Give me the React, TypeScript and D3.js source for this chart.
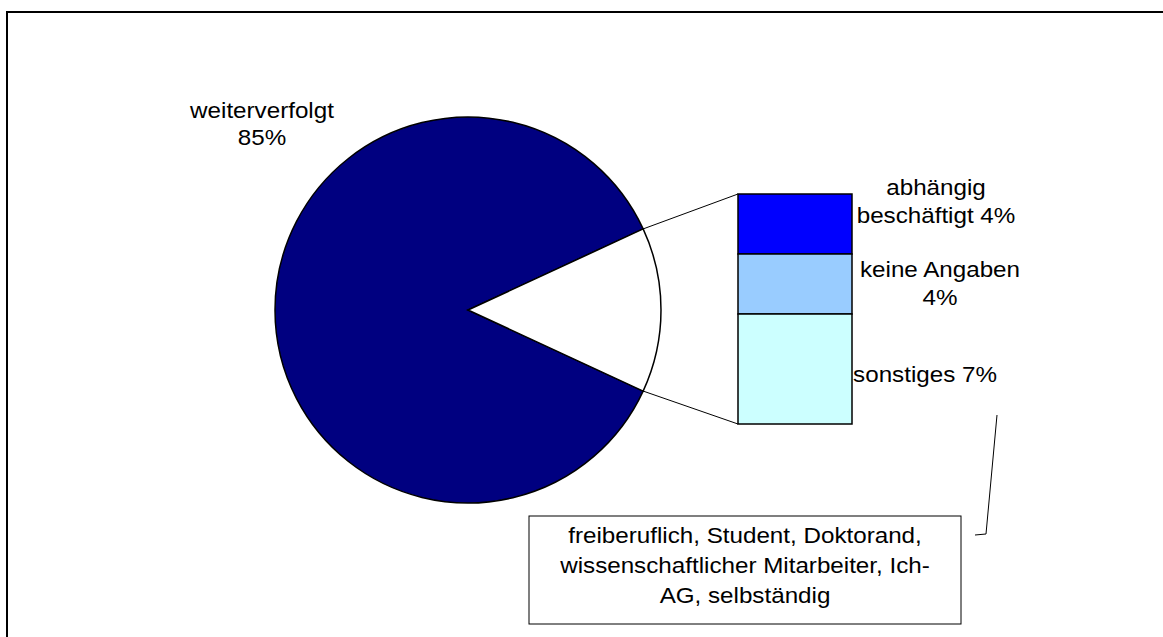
import React from "react";
import * as d3 from "d3";

const pieCategories = ["weiterverfolgt", "nicht weiterverfolgt"];
const pieValues = [86.2, 13.8];
const mainLabelLines = ["weiterverfolgt", "85%"];

const barCategories = ["abhängig beschäftigt", "keine Angaben", "sonstiges"];
const barValues = [3.6, 3.6, 6.6];
const barLabelLines = [["abhängig", "beschäftigt 4%"], ["keine Angaben", "4%"], ["sonstiges 7%"]];
const barColors = ["#0000FF", "#99CCFF", "#CCFFFF"];
const pieColors = ["#000080", "#FFFFFF"];

const noteLines = ["freiberuflich, Student, Doktorand,", "wissenschaftlicher Mitarbeiter, Ich-", "AG, selbständig"];

const W = 1163;
const H = 637;
const FONT = "Arial, 'Liberation Sans', sans-serif";
const FS = 22;
const SX = 1.1;

function STxt({ x, y, children, anchor = "middle" }: any) {
  return (
    <g transform={`translate(${x},${y}) scale(${SX},1)`}>
      <text x={0} y={0} textAnchor={anchor} fontFamily={FONT} fontSize={FS} fill="#000">
        {children}
      </text>
    </g>
  );
}

export default function App() {
  const cx = 468;
  const cy = 310;
  const r = 193;
  const otherFrac = pieValues[1] / d3.sum(pieValues);
  const half = otherFrac * Math.PI;
  const start = Math.PI / 2 + half;
  const pie = d3.pie<number>().sort(null).startAngle(start).endAngle(start + 2 * Math.PI);
  const arcs = pie(pieValues);
  const arcGen = d3.arc<any>().innerRadius(0).outerRadius(r);

  const other = arcs[1];
  const pt = (a: number) => [cx + r * Math.sin(a), cy - r * Math.cos(a)];
  const pTop = pt(other.startAngle);
  const pBot = pt(other.endAngle);

  const barX0 = 738;
  const barX1 = 852;
  const total = d3.sum(barValues);
  const y = d3.scaleLinear().domain([0, total]).range([194, 424]);
  const cum = [0];
  barValues.forEach((v, i) => cum.push(cum[i] + v));

  const labelPos = [
    { x: 936, y: 195 },
    { x: 940, y: 277 },
    { x: 925, y: 382 },
  ];
  const lh = 28;

  const box = { x: 529, y: 516, w: 432, h: 108 };
  const noteY0 = box.y + 27;

  return (
    <div style={{ position: "fixed", left: 0, top: 0 }}>
      <svg width={W} height={H} style={{ display: "block", background: "#fff" }}>
        <rect x={7} y={12} width={1300} height={800} fill="none" stroke="#000" strokeWidth={2} />
        <g transform={`translate(${cx},${cy})`}>
          {arcs.map((a, i) => (
            <path key={pieCategories[i]} d={arcGen(a) as string} fill={pieColors[i]} stroke="#000" strokeWidth={1.5} />
          ))}
        </g>
        <line x1={pTop[0]} y1={pTop[1]} x2={barX0} y2={y(0)} stroke="#000" strokeWidth={1} />
        <line x1={pBot[0]} y1={pBot[1]} x2={barX0} y2={y(total)} stroke="#000" strokeWidth={1} />
        {barValues.map((v, i) => (
          <rect
            key={barCategories[i]}
            x={barX0}
            y={y(cum[i])}
            width={barX1 - barX0}
            height={y(cum[i + 1]) - y(cum[i])}
            fill={barColors[i]}
            stroke="#000"
            strokeWidth={1.5}
          />
        ))}
        {barLabelLines.map((lines, i) =>
          lines.map((t, j) => (
            <STxt key={i + "-" + j} x={labelPos[i].x} y={labelPos[i].y + j * lh}>
              {t}
            </STxt>
          ))
        )}
        {mainLabelLines.map((t, j) => (
          <STxt key={"m" + j} x={262} y={118 + j * 27}>
            {t}
          </STxt>
        ))}
        <rect x={box.x} y={box.y} width={box.w} height={box.h} fill="#fff" stroke="#000" strokeWidth={1} />
        {noteLines.map((t, j) => (
          <STxt key={"n" + j} x={box.x + box.w / 2} y={noteY0 + j * 30}>
            {t}
          </STxt>
        ))}
        <polyline
          points={`975,${box.y + 19} 986,${box.y + 18} 997,415`}
          fill="none"
          stroke="#000"
          strokeWidth={1}
        />
      </svg>
    </div>
  );
}
